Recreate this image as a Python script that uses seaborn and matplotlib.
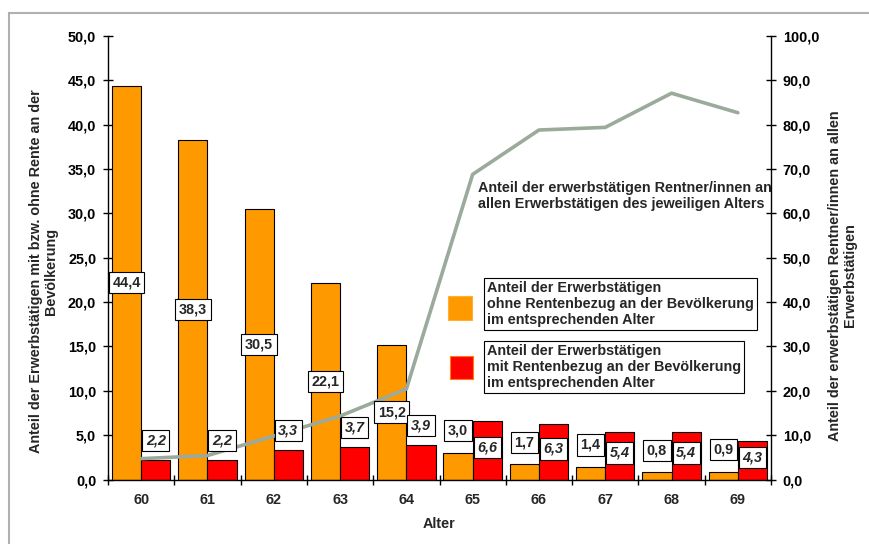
import numpy as np
import pandas as pd
import matplotlib
matplotlib.use("Agg")
import matplotlib.pyplot as plt
import seaborn as sns
from matplotlib.patches import Rectangle
from matplotlib.ticker import FuncFormatter, MultipleLocator, FixedLocator

# ---------------- data ----------------
ages = ["60", "61", "62", "63", "64", "65", "66", "67", "68", "69"]
ohne_rente = [44.4, 38.3, 30.5, 22.1, 15.2, 3.0, 1.7, 1.4, 0.8, 0.9]
mit_rente = [2.2, 2.2, 3.3, 3.7, 3.9, 6.6, 6.3, 5.4, 5.4, 4.3]
anteil_rentner = [4.7, 5.4, 9.8, 14.3, 20.4, 68.8, 78.8, 79.4, 87.1, 82.7]

label_ohne = "Anteil der Erwerbstätigen\nohne Rentenbezug an der Bevölkerung\nim entsprechenden Alter"
label_mit = "Anteil der Erwerbstätigen\nmit Rentenbezug an der Bevölkerung\nim entsprechenden Alter"
label_line = "Anteil der erwerbstätigen Rentner/innen an\nallen Erwerbstätigen des jeweiligen Alters"
ylabel_left = "Anteil der Erwerbstätigen mit bzw. ohne Rente an der\nBevölkerung"
ylabel_right = "Anteil der erwerbstätigen Rentner/innen an allen\nErwerbstätigen"
xlabel = "Alter"

C_ORANGE = "#FF9900"
C_RED = "#FF0000"
C_LINE = "#9BAA9B"
FS = 10.4

sns.set_theme(style="white")
plt.rcParams["font.family"] = ["Liberation Sans", "DejaVu Sans"]
plt.rcParams["font.weight"] = "bold"
plt.rcParams["axes.labelweight"] = "bold"

fig = plt.figure(figsize=(8.69, 5.44), dpi=100)
ax = fig.add_axes([108 / 869, 1 - 479.5 / 544, 663 / 869, 443.5 / 544])

df = pd.DataFrame({
    "Alter": ages * 2,
    "Wert": ohne_rente + mit_rente,
    "Serie": ["ohne"] * len(ages) + ["mit"] * len(ages),
})
sns.barplot(data=df, x="Alter", y="Wert", hue="Serie", order=ages,
            hue_order=["ohne", "mit"],
            palette={"ohne": C_ORANGE, "mit": C_RED}, saturation=1,
            width=0.88, edgecolor="black", linewidth=0.8, ax=ax, legend=False)

ax.set_xlim(-0.5, len(ages) - 0.5)
ax.set_ylim(0, 50)
ax.yaxis.set_major_locator(MultipleLocator(5))
fmt = FuncFormatter(lambda v, p: f"{v:.1f}".replace(".", ","))
ax.yaxis.set_major_formatter(fmt)
ax.tick_params(axis="y", left=True, direction="inout", length=7, width=1,
               labelsize=FS, pad=5, colors="black")
ax.tick_params(axis="x", which="major", bottom=True, length=0, labelsize=FS, pad=10)
ax.xaxis.set_minor_locator(FixedLocator(np.arange(-0.5, len(ages), 1.0)))
ax.tick_params(axis="x", which="minor", bottom=True, direction="inout", length=7, width=1,
               color="black")
for lab in ax.get_xticklabels() + ax.get_yticklabels():
    lab.set_fontweight("bold")
for s in ["top", "right"]:
    ax.spines[s].set_visible(False)
for s in ["left", "bottom"]:
    ax.spines[s].set_color("black")
    ax.spines[s].set_linewidth(1)

ax.set_xlabel(xlabel, fontsize=FS, fontweight="bold")
ax.xaxis.set_label_coords(0.5, -0.085)
ax.set_ylabel(ylabel_left, fontsize=FS, fontweight="bold", linespacing=1.1)
ax.yaxis.set_label_coords(-0.075, 0.47)

# ---------------- line on secondary axis ----------------
ax2 = ax.twinx()
sns.lineplot(x=np.arange(len(ages)), y=anteil_rentner, ax=ax2, color=C_LINE,
             linewidth=2.6)
ax2.set_ylim(0, 100)
ax2.set_xlim(-0.5, len(ages) - 0.5)
ax2.yaxis.set_major_locator(MultipleLocator(10))
ax2.yaxis.set_major_formatter(fmt)
ax2.tick_params(axis="y", right=True, direction="inout", length=7, width=1,
                labelsize=FS, pad=5, colors="black")
for lab in ax2.get_yticklabels():
    lab.set_fontweight("bold")
for s in ["top", "left", "bottom"]:
    ax2.spines[s].set_visible(False)
ax2.spines["right"].set_color("black")
ax2.spines["right"].set_linewidth(1)
ax2.set_ylabel(ylabel_right, fontsize=FS, fontweight="bold", linespacing=1.1)
ax2.yaxis.set_label_coords(1.086, 0.46)

# ---------------- data labels ----------------
box = dict(boxstyle="square,pad=0.25", facecolor="white", edgecolor="black", linewidth=0.8)
bars_ohne, bars_mit = ax.containers[0], ax.containers[1]
for bar, v in zip(bars_ohne, ohne_rente):
    xc = bar.get_x() + bar.get_width() / 2
    yy = v / 2 if v >= 10 else v + 2.5
    ax2.text(xc, yy, f"{v:.1f}".replace(".", ","), transform=ax.transData,
             ha="center", va="center", fontsize=FS, fontweight="bold",
             bbox=box, zorder=10)
for bar, v, o in zip(bars_mit, mit_rente, ohne_rente):
    xc = bar.get_x() + bar.get_width() / 2
    yy = v / 2 + 0.3 if v > o else v + 2.2
    ax2.text(xc, yy, f"{v:.1f}".replace(".", ","), transform=ax.transData,
             ha="center", va="center", fontsize=FS, fontweight="bold",
             style="italic", bbox=box, zorder=10)

# ---------------- annotations / legend ----------------
fig.text(478 / 869, 1 - 196 / 544, label_line, ha="left", va="center",
         fontsize=FS, fontweight="bold", linespacing=1.1)

fig.patches.append(Rectangle((448 / 869, 1 - 320 / 544), 24 / 869, 24 / 544,
                             transform=fig.transFigure, facecolor=C_ORANGE,
                             edgecolor="#FFB030", linewidth=0.8))
fig.text(487 / 869, 1 - 304 / 544, label_ohne, ha="left", va="center",
         fontsize=FS, fontweight="bold", linespacing=1.2,
         bbox=dict(boxstyle="square,pad=0.2", facecolor="white", edgecolor="black", linewidth=0.8))

fig.patches.append(Rectangle((450 / 869, 1 - 379 / 544), 23 / 869, 23 / 544,
                             transform=fig.transFigure, facecolor=C_RED,
                             edgecolor="#FF8000", linewidth=0.8))
fig.text(487 / 869, 1 - 367 / 544, label_mit, ha="left", va="center",
         fontsize=FS, fontweight="bold", linespacing=1.2,
         bbox=dict(boxstyle="square,pad=0.2", facecolor="white", edgecolor="black", linewidth=0.8))

# outer frame
fig.patches.append(Rectangle((9 / 869, -0.1), 1.2, 1.1 - 13 / 544,
                             transform=fig.transFigure, facecolor="none",
                             edgecolor="#B0B0B0", linewidth=1.5))

fig.savefig("out.png", dpi=100)
